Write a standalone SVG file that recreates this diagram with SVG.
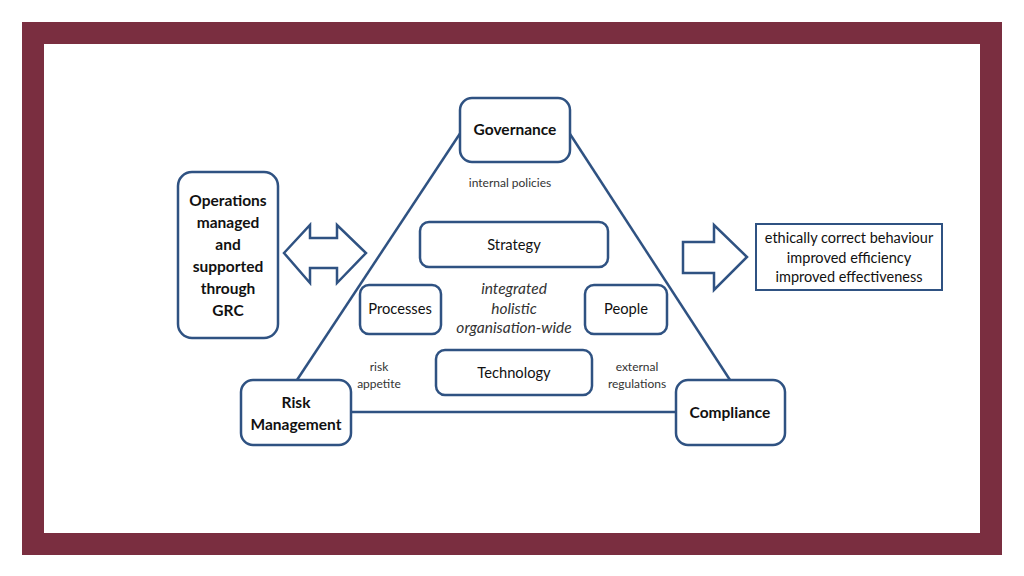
<svg xmlns="http://www.w3.org/2000/svg" width="1024" height="576" viewBox="0 0 1024 576">
<style>
.box{fill:#fff;stroke:#2F5282;stroke-width:2.5}
.ln{stroke:#2F5282;stroke-width:2.5;fill:none}
.arr{fill:#fff;stroke:#2F5282;stroke-width:2.5;stroke-linejoin:miter}
text{font-family:Lato,"Open Sans","Liberation Sans",sans-serif;text-anchor:middle;fill:#111}
.b{font-weight:bold;font-size:15.5px}
.m{font-size:14.7px}
.r{font-size:14.5px}
.s{font-size:12px;fill:#333}
.i{font-style:italic;font-size:15.5px;fill:#333}
</style>
<rect x="0" y="0" width="1024" height="576" fill="#fff"/>
<path d="M22 22H1002V555H22Z M44 44V533H980V44Z" fill="#7A2E40" fill-rule="evenodd"/>
<g id="connectors">
<line class="ln" x1="461" y1="132" x2="297" y2="380"/>
<line class="ln" x1="570" y1="134" x2="730" y2="380"/>
<line class="ln" x1="351" y1="412" x2="676" y2="412"/>
</g>
<g id="double-arrow">
<polygon class="arr" points="284,253 310,225 310,238 337,238 337,225 366,253 337,283 337,268 310,268 310,283"/>
</g>
<g id="right-arrow">
<polygon class="arr" points="683,242 714,242 714,225 747,257 714,290 714,273 683,273"/>
</g>
<g id="governance">
<rect class="box" x="460" y="98" width="110" height="64" rx="12"/>
<text class="b" x="515" y="135">Governance</text>
</g>
<text class="s" x="510" y="187">internal policies</text>
<g id="operations">
<rect class="box" x="178" y="172" width="100" height="166" rx="14"/>
<text class="b" x="228" y="206">Operations</text>
<text class="b" x="228" y="228">managed</text>
<text class="b" x="228" y="250">and</text>
<text class="b" x="228" y="272">supported</text>
<text class="b" x="228" y="294">through</text>
<text class="b" x="228" y="316">GRC</text>
</g>
<g id="strategy">
<rect class="box" x="420" y="222" width="188" height="45" rx="9"/>
<text class="m" x="514" y="250">Strategy</text>
</g>
<g id="processes">
<rect class="box" x="360" y="285" width="81" height="49" rx="9"/>
<text class="m" x="400" y="314">Processes</text>
</g>
<g id="people">
<rect class="box" x="585" y="285" width="82" height="49" rx="9"/>
<text class="m" x="626" y="314">People</text>
</g>
<text class="i" x="514" y="294">integrated</text>
<text class="i" x="514" y="314">holistic</text>
<text class="i" x="514" y="333">organisation-wide</text>
<g id="technology">
<rect class="box" x="436" y="350" width="156" height="45" rx="9"/>
<text class="m" x="514" y="378">Technology</text>
</g>
<text class="s" x="379" y="371">risk</text>
<text class="s" x="379" y="388">appetite</text>
<text class="s" x="637" y="371">external</text>
<text class="s" x="637" y="388">regulations</text>
<g id="risk-management">
<rect class="box" x="241" y="380" width="110" height="65" rx="12"/>
<text class="b" x="296" y="408">Risk</text>
<text class="b" x="296" y="430">Management</text>
</g>
<g id="compliance">
<rect class="box" x="676" y="380" width="109" height="65" rx="12"/>
<text class="b" x="730" y="418">Compliance</text>
</g>
<g id="outcomes">
<rect x="756" y="224" width="186" height="66" fill="#fff" stroke="#2F5282" stroke-width="2"/>
<text class="r" x="849" y="243">ethically correct behaviour</text>
<text class="r" x="849" y="263">improved efficiency</text>
<text class="r" x="849" y="282">improved effectiveness</text>
</g>
</svg>
